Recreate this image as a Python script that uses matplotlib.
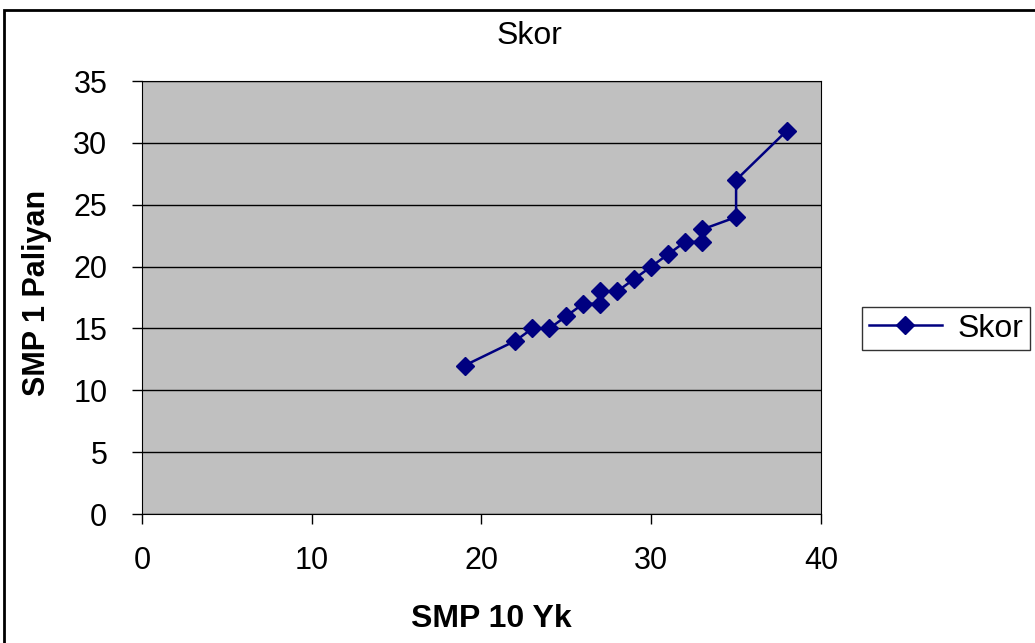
import matplotlib
matplotlib.use("Agg")
import matplotlib.pyplot as plt
from matplotlib.patches import Rectangle

plt.rcParams['font.family'] = ['Liberation Sans', 'DejaVu Sans']

smp10 = [19, 22, 23, 24, 25, 26, 27, 27, 28, 29, 30, 31, 32, 33, 33, 35, 35, 38]
smp1 = [12, 14, 15, 15, 16, 17, 17, 18, 18, 19, 20, 21, 22, 22, 23, 24, 27, 31]

fig = plt.figure(figsize=(10.35, 6.43), dpi=100)
ax = fig.add_axes([0.1372, 0.2006, 0.656, 0.6734])
ax.set_facecolor('#C0C0C0')

ax.plot(smp10, smp1, color='#000080', marker='D', markersize=9, linewidth=1.8, label='Skor')

ax.set_xlim(0, 40)
ax.set_ylim(0, 35)
ax.set_xticks(range(0, 41, 10))
ax.set_yticks(range(0, 36, 5))
ax.grid(axis='y', color='black', linewidth=1)
ax.set_axisbelow(True)
ax.tick_params(labelsize=22, length=7, direction='out', width=1)
ax.tick_params(axis='x', pad=16)
ax.tick_params(axis='y', pad=18)
for s in ax.spines.values():
    s.set_color('black')

fig.text(0.512, 0.944, 'Skor', fontsize=23, ha='center', va='center')
fig.text(0.475, 0.038, 'SMP 10 Yk', fontsize=23, fontweight='bold', ha='center', va='center')
fig.text(0.036, 0.545, 'SMP 1 Paliyan', fontsize=22, fontweight='bold', ha='center', va='center',
         rotation=90)

leg = fig.legend(loc='center left', bbox_to_anchor=(0.833, 0.489), fontsize=23,
                 frameon=True, fancybox=False, handlelength=2.3, borderpad=0.2,
                 handletextpad=0.5, borderaxespad=0)
leg.get_frame().set_edgecolor('black')
leg.get_frame().set_linewidth(1)

fig.patches.append(Rectangle((0.004, -0.1), 1.2, 1.085, transform=fig.transFigure,
                             fill=False, edgecolor='black', linewidth=2))

fig.savefig('out.png', dpi=100)
